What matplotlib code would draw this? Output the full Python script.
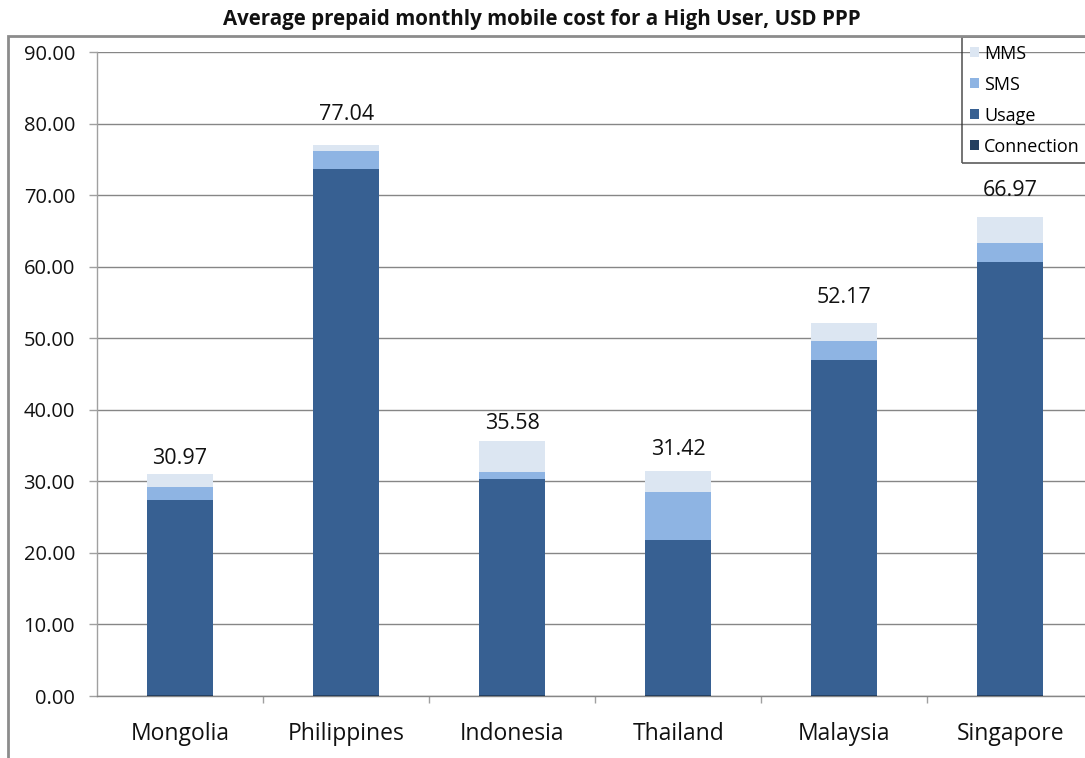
import matplotlib
matplotlib.use("Agg")
import matplotlib.pyplot as plt
from matplotlib.patches import Rectangle, Patch
import numpy as np

plt.rcParams['font.family'] = ['Open Sans', 'DejaVu Sans']

countries = ["Mongolia", "Philippines", "Indonesia", "Thailand", "Malaysia", "Singapore"]
connection = [0.10, 0.10, 0.10, 0.20, 0.10, 0.20]
usage = [27.25, 73.57, 30.18, 21.57, 46.92, 60.40]
sms = [1.85, 2.51, 1.02, 6.69, 2.65, 2.70]
mms = [1.77, 0.86, 4.28, 2.96, 2.50, 3.67]
totals = [30.97, 77.04, 35.58, 31.42, 52.17, 66.97]
yticks = [0, 10, 20, 30, 40, 50, 60, 70, 80, 90]

label_offsets_px = [16, 30, 18, 22, 25, 26]

col_conn = "#243F60"
col_usage = "#376092"
col_sms = "#8EB4E3"
col_mms = "#DCE6F2"

W, H = 1085, 758
fig = plt.figure(figsize=(W / 100, H / 100), dpi=100)
ax = fig.add_axes([97 / W, 1 - 696 / H, 1 - 97 / W, (696 - 52) / H])

x = np.arange(len(countries))
bw = 0.40
b0 = np.zeros(len(countries))
ax.bar(x, connection, bw, bottom=b0, color=col_conn, zorder=3, linewidth=0)
b1 = b0 + np.array(connection)
ax.bar(x, usage, bw, bottom=b1, color=col_usage, zorder=3, linewidth=0)
b2 = b1 + np.array(usage)
ax.bar(x, sms, bw, bottom=b2, color=col_sms, zorder=3, linewidth=0)
b3 = b2 + np.array(sms)
ax.bar(x, mms, bw, bottom=b3, color=col_mms, zorder=3, linewidth=0)

for xi, t, off in zip(x, totals, label_offsets_px):
    ax.annotate(f"{t:.2f}", (xi, t), xytext=(0, off), textcoords="offset pixels",
                ha="center", va="center", fontsize=15.5, color="#111111", zorder=5)

ax.set_xlim(-0.5, 5.45)
ax.set_ylim(0, 90)
ax.set_yticks(yticks)
ax.set_yticklabels([f"{v:.2f}" for v in yticks])
ax.yaxis.grid(True, color="#868686", linewidth=1.0, zorder=0)
ax.set_axisbelow(True)

ax.set_xticks(x)
ax.set_xticklabels(countries)
ax.set_xticks(np.arange(0.5, 5.5, 1.0), minor=True)
ax.tick_params(axis="x", which="major", length=0, pad=19, labelsize=16.5, colors="#111111")
ax.tick_params(axis="x", which="minor", length=5, color="#A0A0A0", width=1)
ax.tick_params(axis="y", length=5.8, color="#A0A0A0", width=1, pad=10, labelsize=14.5, labelcolor="#111111")

for s in ["top", "right"]:
    ax.spines[s].set_visible(False)
ax.spines["left"].set_color("#A0A0A0")
ax.spines["bottom"].set_color("#868686")
ax.spines["left"].set_linewidth(1)
ax.spines["bottom"].set_linewidth(1)
ax.patch.set_alpha(0)

fig.text(542 / W, 1 - 19 / H, "Average prepaid monthly mobile cost for a High User, USD PPP",
         ha="center", va="center", fontsize=14.8, fontweight="bold", color="#111111")

border = Rectangle((8 / W, -0.05), 1.1, 1 - 36 / H + 0.05, transform=fig.transFigure,
                   fill=False, edgecolor="#8C8C8C", linewidth=2, zorder=10)
fig.add_artist(border)

handles = [Patch(facecolor=col_mms, edgecolor="none"),
           Patch(facecolor=col_sms, edgecolor="none"),
           Patch(facecolor=col_usage, edgecolor="none"),
           Patch(facecolor=col_conn, edgecolor="none")]
leg = fig.legend(handles, ["MMS", "SMS", "Usage", "Connection"],
                 loc="upper left", bbox_to_anchor=(962 / W, 1 - 37 / H),
                 fontsize=13, frameon=True, fancybox=False,
                 handlelength=0.5, handleheight=0.5, handletextpad=0.3,
                 labelspacing=0.72, borderpad=0.42, borderaxespad=0)
leg.get_frame().set_facecolor("none")
leg.get_frame().set_edgecolor("#333333")
leg.get_frame().set_linewidth(1.2)

fig.savefig("out.png", dpi=100)
